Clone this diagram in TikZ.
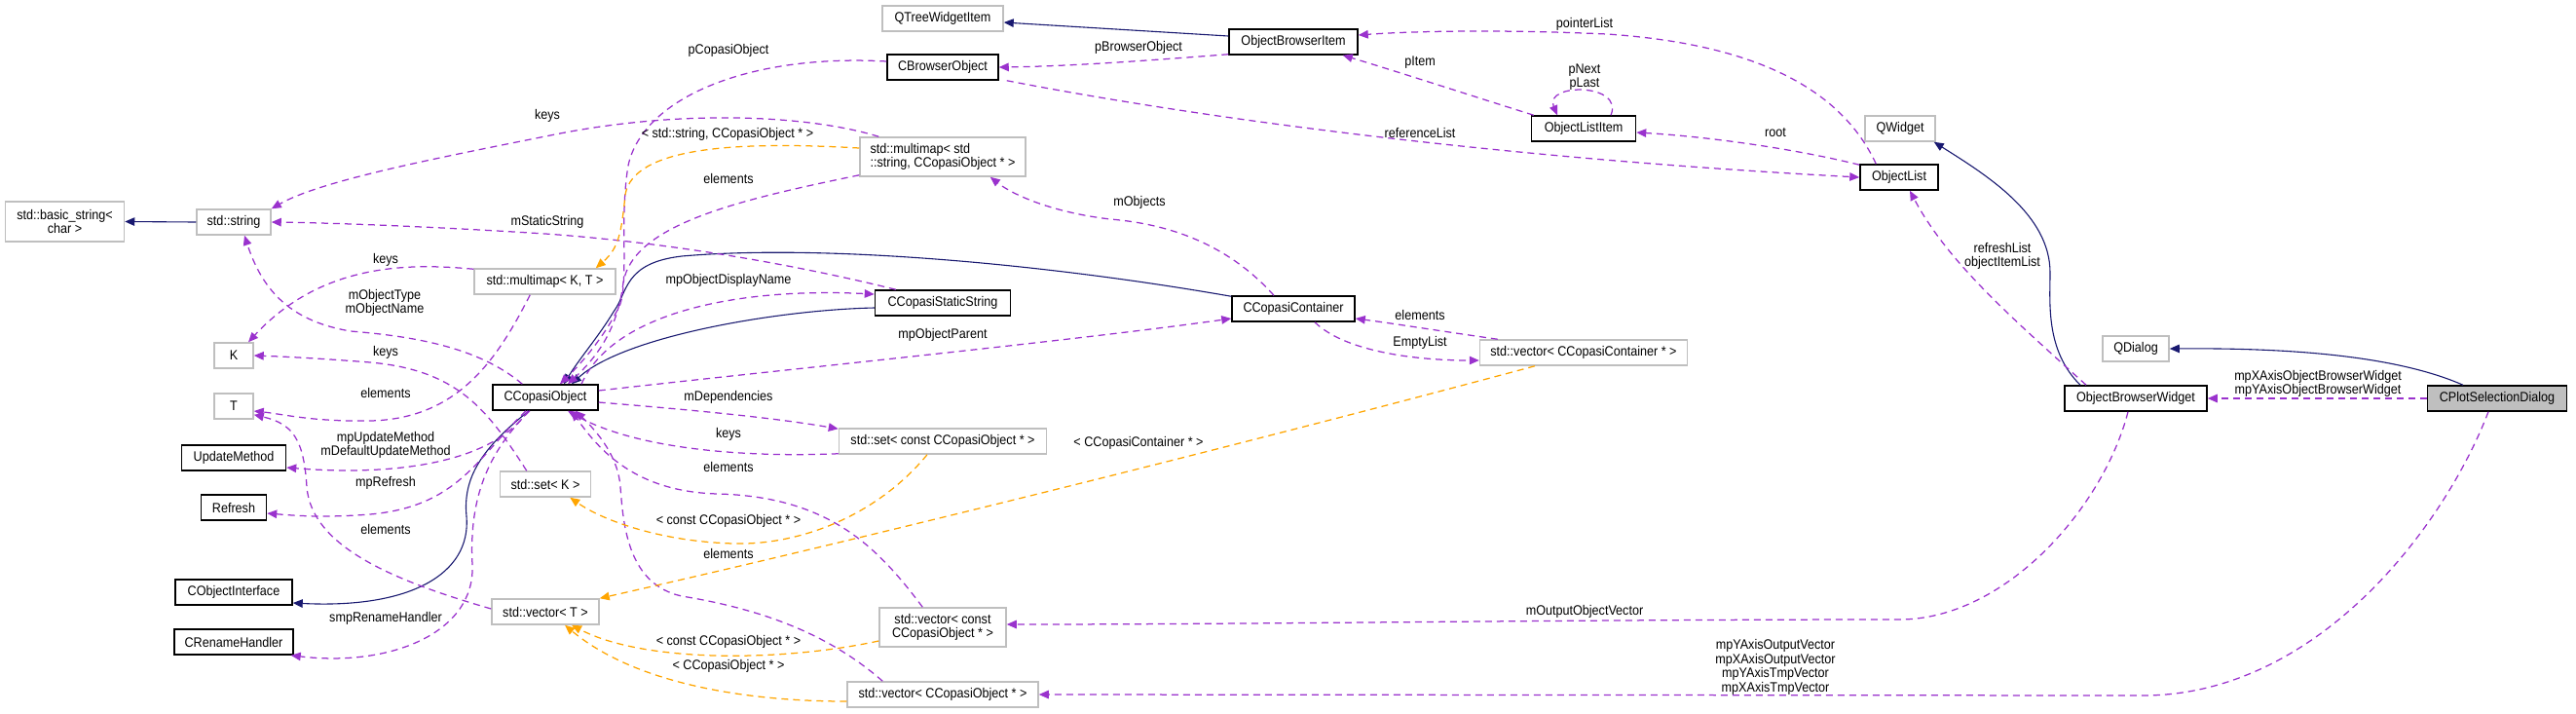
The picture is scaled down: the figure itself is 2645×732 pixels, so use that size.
\documentclass[tikz,border=0pt]{standalone}
\usepackage{fontspec}
\newfontfamily\diagfamily[FakeStretch=0.9]{Liberation Sans}
\newcommand\diagfont{\diagfamily\fontsize{14}{14.5}\selectfont}
\usetikzlibrary{arrows.meta,calc}
\definecolor{usepurple}{HTML}{9A32CD}
\definecolor{tmplorange}{HTML}{FFA500}
\definecolor{inhblue}{HTML}{191970}
\definecolor{boxgray}{HTML}{BFBFBF}
\tikzset{
  cls/.style={draw=black, line width=1.5pt, fill=white, inner sep=0pt, minimum height=26pt, font=\diagfont, align=center},
  ext/.style={cls, draw=boxgray},
  lbl/.style={font=\diagfont, inner sep=0pt, align=center},
  usearrow/.style={draw=usepurple, line width=1.25pt, dash pattern=on 7pt off 5pt, -{Triangle[length=10pt,width=8.5pt]}},
  tmplarrow/.style={usearrow, draw=tmplorange},
  inharrow/.style={draw=inhblue, line width=1.1pt, -{Triangle[length=10pt,width=8.5pt]}}
}
\begin{document}
\begin{tikzpicture}[x=1pt,y=-1pt]
\useasboundingbox (0,0) rectangle (2645,732);
% ---------- nodes ----------
\node[ext, minimum width=122pt, minimum height=41pt] (bstr) at (66.5,227.5) {std::basic\_string<\\char >};
\node[ext, minimum width=76pt] (str) at (240,228) {std::string};
\node[ext, minimum width=145pt] (mmKT) at (559.5,289) {std::multimap< K, T >};
\node[ext, minimum width=40pt] (K) at (240,365) {K};
\node[ext, minimum width=40pt] (T) at (240,417) {T};
\node[cls, minimum width=107pt] (upd) at (240,470) {UpdateMethod};
\node[cls, minimum width=67pt] (refr) at (240,521) {Refresh};
\node[cls, minimum width=120pt] (coi) at (240,608) {CObjectInterface};
\node[cls, minimum width=122pt] (crh) at (240,659) {CRenameHandler};
\node[cls, minimum width=108pt] (cobj) at (560,408) {CCopasiObject};
\node[ext, minimum width=93pt] (setK) at (560,497) {std::set< K >};
\node[ext, minimum width=110pt] (vecT) at (560,628) {std::vector< T >};
\node[ext, minimum width=124pt] (qtwi) at (968,19) {QTreeWidgetItem};
\node[cls, minimum width=114pt] (cbo) at (968,69) {CBrowserObject};
\node[ext, minimum width=170pt, minimum height=40pt, align=left] (mmS) at (968,161) {std::multimap< std\\::string, CCopasiObject * >};
\node[cls, minimum width=139pt] (css) at (968,311) {CCopasiStaticString};
\node[ext, minimum width=213pt] (setC) at (968,453) {std::set< const CCopasiObject * >};
\node[ext, minimum width=130pt, minimum height=40pt] (vecCC) at (968,644) {std::vector< const\\CCopasiObject * >};
\node[ext, minimum width=196pt] (vecC) at (968,713) {std::vector< CCopasiObject * >};
\node[cls, minimum width=132pt] (obi) at (1328,43) {ObjectBrowserItem};
\node[cls, minimum width=126pt] (cc) at (1328,317) {CCopasiContainer};
\node[cls, minimum width=107pt] (oli) at (1626,132) {ObjectListItem};
\node[ext, minimum width=213pt] (vecCont) at (1626,362) {std::vector< CCopasiContainer * >};
\node[ext, minimum width=72pt] (qw) at (1951,132) {QWidget};
\node[cls, minimum width=80pt] (ol) at (1950,182) {ObjectList};
\node[ext, minimum width=68pt] (qd) at (2193,358) {QDialog};
\node[cls, minimum width=146pt] (obw) at (2193,409) {ObjectBrowserWidget};
\node[cls, fill=boxgray, minimum width=143pt] (cpsd) at (2564,409) {CPlotSelectionDialog};
% ---------- inheritance ----------
\draw[inharrow] (str.west) -- (bstr.east);
\draw[inharrow] ($(obi.west)+(0,-6)$) -- ($(qtwi.east)+(0,4)$);
\draw[inharrow] ($(css.west)+(0,5)$) .. controls (800,318) and (640,345) .. ($(cobj.north)+(27,0)$);
\draw[inharrow] ($(cc.north west)+(0,1)$) .. controls (1080,272) and (850,250) .. (700,263) .. controls (640,270) and (645,300) .. (630,320) .. controls (615,345) and (595,368) .. ($(cobj.north)+(19,0)$);
\draw[inharrow] ($(cobj.south)+(-17,0)$) .. controls (495,460) and (475,490) .. (479,530) .. controls (484,590) and (420,625) .. ($(coi.east)+(0,11)$);
\draw[inharrow] ($(obw.north)+(-57,0)$) .. controls (2100,360) and (2105,310) .. (2105,280) .. controls (2105,220) and (2040,180) .. ($(qw.south east)+(-2,0)$);
\draw[inharrow] ($(cpsd.north)+(-35,0)$) .. controls (2460,365) and (2350,357) .. (qd.east);
% ---------- usage (purple) ----------
\draw[usearrow] ($(mmS.north west)+(20,0)$) .. controls (830,118) and (700,112) .. (570,138) .. controls (450,162) and (330,185) .. (str.north east);
\draw[usearrow] ($(mmS.south west)+(0,-2)$) .. controls (760,205) and (650,230) .. (640,290) .. controls (635,330) and (620,360) .. ($(cobj.north)+(23,0)$);
\draw[usearrow] ($(cbo.west)+(0,-6)$) .. controls (770,55) and (660,100) .. (645,170) .. controls (635,230) and (648,300) .. (633,320) .. controls (620,345) and (600,370) .. ($(cobj.north)+(15,0)$);
\draw[usearrow] ($(css.north west)+(22,0)$) .. controls (830,275) and (700,250) .. (560,240) .. controls (450,233) and (350,229) .. (str.east);
\draw[usearrow] ($(cobj.north west)+(31,0)$) .. controls (490,355) and (420,345) .. (360,340) .. controls (300,330) and (270,300) .. ($(str.south)+(11,0)$);
\draw[usearrow] ($(mmKT.north west)+(0,1)$) .. controls (420,270) and (330,270) .. ($(K.north)+(15,0)$);
\draw[usearrow] ($(mmKT.south west)+(58,0)$) .. controls (510,370) and (470,430) .. (380,432) .. controls (320,433) and (290,425) .. ($(T.east)+(0,5)$);
\draw[usearrow] ($(setK.north west)+(28,0)$) .. controls (500,420) and (470,380) .. (380,372) .. controls (330,368) and (290,366) .. (K.east);
\draw[usearrow] ($(vecT.west)+(0,-3)$) .. controls (400,595) and (320,560) .. (315,500) .. controls (312,450) and (300,435) .. ($(T.south east)+(0,-5)$);
\draw[usearrow] ($(cobj.south)+(-18,0)$) .. controls (510,470) and (420,490) .. ($(upd.east)+(0,10)$);
\draw[usearrow] ($(cobj.south)+(-20,0)$) .. controls (490,470) and (470,520) .. (380,528) .. controls (330,532) and (300,529) .. ($(refr.east)+(0,6)$);
\draw[usearrow] ($(cobj.south)+(-16,0)$) .. controls (495,470) and (482,520) .. (485,580) .. controls (488,650) and (400,685) .. ($(crh.south east)+(-3,0)$);
\draw[usearrow] ($(cobj.north)+(37,0)$) .. controls (630,320) and (760,295) .. ($(css.west)+(0,-9)$);
\draw[usearrow] ($(cobj.east)+(0,-7)$) .. controls (800,380) and (1100,350) .. ($(cc.west)+(0,10)$);
\draw[usearrow] ($(cobj.east)+(0,5)$) .. controls (700,420) and (790,428) .. ($(setC.north west)+(0,1)$);
\draw[usearrow] ($(setC.south west)+(0,-1)$) .. controls (760,470) and (650,460) .. ($(cobj.south)+(23,0)$);
\draw[usearrow] ($(vecCC.north west)+(45,0)$) .. controls (900,560) and (850,510) .. (737,507) .. controls (660,505) and (620,470) .. ($(cobj.south)+(27,0)$);
\draw[usearrow] ($(vecC.north west)+(37,0)$) .. controls (850,650) and (780,625) .. (700,612) .. controls (645,600) and (640,540) .. (637,500) .. controls (635,470) and (615,445) .. ($(cobj.south)+(31,0)$);
\draw[usearrow] ($(obi.south west)+(0,-1)$) .. controls (1180,62) and (1100,68) .. (cbo.east);
\draw[usearrow] ($(cbo.south east)+(8,0)$) .. controls (1200,115) and (1500,160) .. (ol.west);
\draw[usearrow] ($(cc.north)+(-20,0)$) .. controls (1260,250) and (1200,230) .. (1140,225) .. controls (1080,218) and (1040,200) .. ($(mmS.south east)+(-37,0)$);
\draw[usearrow] ($(vecCont.north west)+(19,0)$) .. controls (1480,340) and (1430,332) .. ($(cc.east)+(0,10)$);
\draw[usearrow] ($(cc.south)+(22,0)$) .. controls (1380,360) and (1450,370) .. ($(vecCont.west)+(0,8)$);
\draw[usearrow] ($(ol.north west)+(17,0)$) .. controls (1890,90) and (1800,45) .. (1650,35) .. controls (1540,30) and (1450,32) .. ($(obi.east)+(0,-7)$);
\draw[usearrow] ($(ol.north west)+(0,1)$) .. controls (1840,152) and (1750,140) .. ($(oli.east)+(0,4)$);
\draw[usearrow] ($(oli.north west)+(3,0)$) .. controls (1510,98) and (1430,72) .. ($(obi.south east)+(-16,0)$);
\draw[usearrow] ($(oli.north)+(28,0)$) .. controls (1668,85) and (1585,85) .. ($(oli.north)+(-27,0)$);
\draw[usearrow] ($(obw.north)+(-51,0)$) .. controls (2070,330) and (2000,270) .. ($(ol.south)+(11,0)$);
\draw[usearrow] (cpsd.west) -- (obw.east);
\draw[usearrow] ($(obw.south)+(-8,0)$) .. controls (2160,520) and (2060,636) .. (1950,636) .. controls (1600,636) and (1300,641) .. ($(vecCC.east)+(0,-3)$);
\draw[usearrow] ($(cpsd.south)+(-9,0)$) .. controls (2510,540) and (2380,714) .. (2200,714) -- (vecC.east);
% ---------- template instances (orange) ----------
\draw[tmplarrow] ($(mmS.west)+(0,-9)$) .. controls (760,145) and (650,150) .. (642,200) .. controls (638,240) and (635,255) .. ($(mmKT.north east)+(-21,0)$);
\draw[tmplarrow] ($(setC.south)+(-16,0)$) .. controls (900,530) and (820,560) .. (753,558) .. controls (680,556) and (620,535) .. ($(setK.south east)+(-22,0)$);
\draw[tmplarrow] ($(vecCont.south)+(-50,0)$) .. controls (1300,450) and (900,550) .. (vecT.north east);
\draw[tmplarrow] ($(vecCC.west)+(0,14)$) .. controls (800,680) and (660,680) .. ($(vecT.south)+(27,0)$);
\draw[tmplarrow] ($(vecC.west)+(0,7)$) .. controls (760,720) and (650,700) .. ($(vecT.south)+(20,0)$);
% ---------- labels ----------
\node[lbl] (l01) at (562,119) {keys};
\node[lbl] (l02) at (748,52) {pCopasiObject};
\node[lbl] (l03) at (747,138) {< std::string, CCopasiObject * >};
\node[lbl] (l04) at (748,183) {elements};
\node[lbl] (l05) at (562,228) {mStaticString};
\node[lbl] (l06) at (748,288) {mpObjectDisplayName};
\node[lbl] (l07) at (396,267) {keys};
\node[lbl] (l08) at (395,311) {mObjectType\\mObjectName};
\node[lbl] (l09) at (396,362) {keys};
\node[lbl] (l10) at (396,403) {elements};
\node[lbl] (l11) at (396,457) {mpUpdateMethod\\mDefaultUpdateMethod};
\node[lbl] (l12) at (396,496) {mpRefresh};
\node[lbl] (l13) at (396,543) {elements};
\node[lbl] (l14) at (396,635) {smpRenameHandler};
\node[lbl] (l15) at (748,408) {mDependencies};
\node[lbl] (l16) at (748,446) {keys};
\node[lbl] (l17) at (748,479) {elements};
\node[lbl] (l18) at (748,535) {< const CCopasiObject * >};
\node[lbl] (l19) at (748,568) {elements};
\node[lbl] (l20) at (748,659) {< const CCopasiObject * >};
\node[lbl] (l21) at (748,684) {< CCopasiObject * >};
\node[lbl] (l22) at (1169,455) {< CCopasiContainer * >};
\node[lbl] (l23) at (1169,49) {pBrowserObject};
\node[lbl] (l24) at (1170,208) {mObjects};
\node[lbl] (l25) at (968,344) {mpObjectParent};
\node[lbl] (l26) at (1627,25) {pointerList};
\node[lbl] (l27) at (1458,64) {pItem};
\node[lbl] (l28) at (1627,79) {pNext\\pLast};
\node[lbl] (l29) at (1458,136) {referenceList};
\node[lbl] (l30) at (1458,323) {elements};
\node[lbl] (l31) at (1458,352) {EmptyList};
\node[lbl] (l32) at (1823,136) {root};
\node[lbl] (l33) at (2056,263) {refreshList\\objectItemList};
\node[lbl] (l34) at (2380,394) {mpXAxisObjectBrowserWidget\\mpYAxisObjectBrowserWidget};
\node[lbl] (l35) at (1627,628) {mOutputObjectVector};
\node[lbl] (l36) at (1823,685) {mpYAxisOutputVector\\mpXAxisOutputVector\\mpYAxisTmpVector\\mpXAxisTmpVector};
\end{tikzpicture}
\end{document}
